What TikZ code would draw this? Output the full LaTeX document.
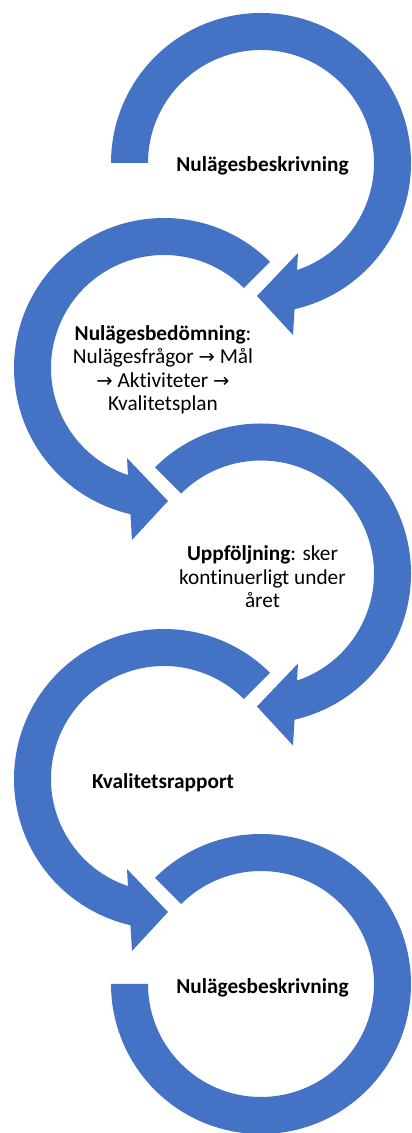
\documentclass[tikz,border=0pt]{standalone}
\usepackage{fontspec}
\setmainfont{Carlito}[Ligatures=NoCommon]
\newfontfamily\arrfont{DejaVu Sans}
\definecolor{ringblue}{RGB}{68,114,196}
\newcommand\ar{{\arrfont\fontsize{19.5}{23.5}\selectfont →}}
\begin{document}
\begin{tikzpicture}[x=1pt,y=1pt,
  ring/.style={fill=ringblue},
  lbl/.style={font=\fontsize{21.3}{23.5}\selectfont, align=center, text=black, inner sep=0pt}]
\useasboundingbox (0,0) rectangle (412,1133);
% shape 1
\begin{scope}[shift={(261,970)}]
\fill[ring] (180:150) arc[start angle=180,end angle=-77.07,radius=150] -- (32,-172) -- (-4,-133) -- (37,-90) -- (-71.4:113) arc[start angle=-71.4,end angle=180,radius=113] -- cycle;
\end{scope}
% shape 2 (mirrored)
\begin{scope}[shift={(164,765)},xscale=-1]
\fill[ring] (135:150) arc[start angle=135,end angle=-77.07,radius=150] -- (32,-172) -- (-4,-133) -- (37,-90) -- (-71.4:113) arc[start angle=-71.4,end angle=135,radius=113] -- cycle;
\end{scope}
% shape 3
\begin{scope}[shift={(261,559.5)}]
\fill[ring] (135:150) arc[start angle=135,end angle=-77.07,radius=150] -- (32,-172) -- (-4,-133) -- (37,-90) -- (-71.4:113) arc[start angle=-71.4,end angle=135,radius=113] -- cycle;
\end{scope}
% shape 4 (mirrored)
\begin{scope}[shift={(164,354)},xscale=-1]
\fill[ring] (135:150) arc[start angle=135,end angle=-77.07,radius=150] -- (32,-172) -- (-4,-133) -- (37,-90) -- (-71.4:113) arc[start angle=-71.4,end angle=135,radius=113] -- cycle;
\end{scope}
% shape 5
\begin{scope}[shift={(261,149)}]
\fill[ring] (135:150) arc[start angle=135,end angle=-180,radius=150] -- (-180:113) arc[start angle=-180,end angle=135,radius=113] -- cycle;
\end{scope}
\node[lbl] (t1) at (262.5,967) {\textbf{Nulägesbeskrivning}};
\node[lbl] (t2) at (163,763) {\textbf{Nulägesbedömning}:\\Nulägesfrågor \ar{} Mål\\\ar{} Aktiviteter \ar\\Kvalitetsplan};
\node[lbl] (t3) at (262.5,556) {\textbf{Uppföljning}: sker\\kontinuerligt under\\året};
\node[lbl] (t4) at (163,350) {\textbf{Kvalitetsrapport}};
\node[lbl] (t5) at (262.5,145) {\textbf{Nulägesbeskrivning}};
\end{tikzpicture}
\end{document}
